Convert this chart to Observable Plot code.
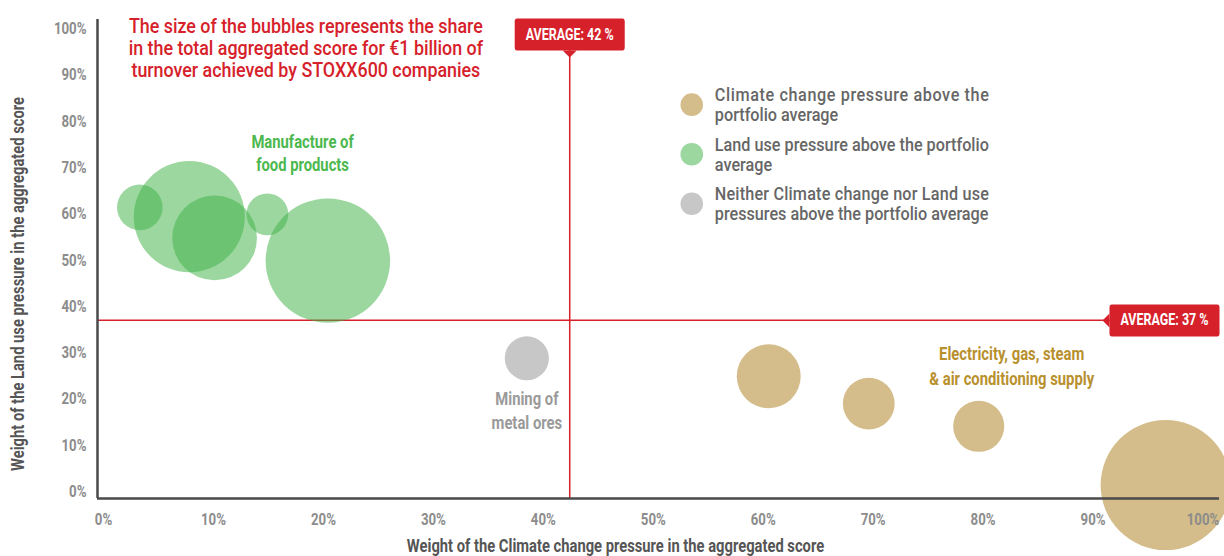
<!DOCTYPE html>
<html><head><meta charset="utf-8">
<script src="https://cdn.jsdelivr.net/npm/d3@7"></script>
<script src="https://cdn.jsdelivr.net/npm/@observablehq/plot@0.6"></script>
<style>
body{margin:0;background:#fff;}
#chart{width:1224px;height:556px;}
</style></head><body><div id="chart"></div>
<script>
// ---- data ----
const groups = ["land","land","land","land","land","neither","climate","climate","climate","climate"];
const climateWeight = [3.3, 7.8, 10.1, 14.9, 20.4, 38.5, 60.5, 69.6, 79.6, 96.6];
const landWeight    = [61.4, 59.4, 54.8, 59.9, 49.9, 28.8, 24.9, 19.0, 14.1, 1.4];
const scoreShare    = [3.1, 18.4, 10.7, 2.6, 23.1, 2.9, 6.1, 4.0, 3.9, 25.2];
const avgClimate = 42.4;
const avgLand = 37;
const xTicks = [0,10,20,30,40,50,60,70,80,90,100];
const yTicks = [0,10,20,30,40,50,60,70,80,90,100];
const legendKeys = ["climate","land","neither"];
const legendLabels = [
  "Climate change pressure above the\nportfolio average",
  "Land use pressure above the portfolio\naverage",
  "Neither Climate change nor Land use\npressures above the portfolio average"
];
const xTitle = "Weight of the Climate change pressure in the aggregated score";
const yTitle = "Weight of the Land use pressure in the aggregated score";
const noteText = "The size of the bubbles represents the share\nin the total aggregated score for €1 billion of\nturnover achieved by STOXX600 companies";
const sectorLabels = ["Manufacture of\nfood products", "Mining of\nmetal ores", "Electricity, gas, steam\n& air conditioning supply"];

// ---- styling ----
const FONT = 'Roboto, "Liberation Sans", sans-serif';
const SX = 0.78; // horizontal squeeze to imitate the condensed face
const RED = "#d6212b";
const GOLD = "#d4bd8a", GREEN = "#42b44a", GREY = "#c6c7c6";
const colorOf = {climate: GOLD, land: GREEN, neither: GREY};
const opacityOf = {climate: 1, land: 0.53, neither: 1};

const bubbles = groups.map((g, i) => ({group: g, x: climateWeight[i], y: landWeight[i], share: scoreShare[i]}));
const xMin = -0.55, xMax = 101.5, yMin = -1.5, yMax = 102;

// layout (data coordinates for annotations)
const legendPos = [{x: 53.5, tx: 55.6, y: 83.6}, {x: 53.5, tx: 55.6, y: 72.9}, {x: 53.5, tx: 55.6, y: 62.2}];
const legend = legendKeys.map((k, i) => ({key: k, label: legendLabels[i], ...legendPos[i]}));

const chart = Plot.plot({
  width: 1224, height: 556,
  marginLeft: 97, marginRight: 5, marginTop: 19, marginBottom: 58,
  style: {fontFamily: FONT, background: "#fff", overflow: "visible"},
  x: {domain: [xMin, xMax], axis: null},
  y: {domain: [yMin, yMax], axis: null},
  r: {type: "sqrt", domain: [0, 25.2], range: [0, 65]},
  marks: [
    Plot.ruleX([avgClimate], {stroke: RED, strokeWidth: 1.5}),
    Plot.ruleY([avgLand], {stroke: RED, strokeWidth: 1.5}),
    Plot.dot(bubbles, {x: "x", y: "y", r: "share", fill: d => colorOf[d.group], fillOpacity: d => opacityOf[d.group], stroke: null}),
    // axes
    Plot.ruleX([xMin], {stroke: "#4a4a4a", strokeWidth: 2.5}),
    Plot.ruleY([yMin], {stroke: "#4a4a4a", strokeWidth: 2.5}),
    Plot.axisX(xTicks, {tickFormat: d => d + "%", tickSize: 0, tickPadding: 14, fontSize: 17, fontWeight: "bold", fill: "#8c8c8c", label: null}),
    Plot.axisY(yTicks, {tickFormat: d => d + "%", tickSize: 0, tickPadding: 11, fontSize: 17, fontWeight: "bold", fill: "#8c8c8c", label: null}),
    Plot.text([xTitle], {frameAnchor: "bottom", dx: -43, dy: 48, lineAnchor: "middle", fontSize: 18, fontWeight: "bold", fill: "#555"}),
    Plot.text([yTitle], {frameAnchor: "left", rotate: -90, dx: -79, dy: 25, textAnchor: "middle", lineAnchor: "middle", fontSize: 18, fontWeight: "bold", fill: "#555"}),
    // annotations
    Plot.text([noteText], {x: 18.4, y: 95.9, fontSize: 20, lineHeight: 1.1, fill: RED, fontWeight: 500}),
    Plot.text([sectorLabels[0]], {x: 18.1, y: 73.3, fontSize: 19, lineHeight: 1.2, fill: "#4cb84e", fontWeight: "bold"}),
    Plot.text([sectorLabels[1]], {x: 38.5, y: 17.7, fontSize: 19, lineHeight: 1.25, fill: "#9a9a9a", fontWeight: "bold"}),
    Plot.text([sectorLabels[2]], {x: 82.6, y: 27.4, fontSize: 19, lineHeight: 1.3, fill: "#b8902e", fontWeight: "bold"}),
    // legend
    Plot.dot(legend, {x: "x", y: "y", r: 11.3, fill: d => colorOf[d.key], fillOpacity: d => d.key === "land" ? 0.53 : 1, stroke: null}),
    Plot.text(legend, {x: "tx", y: "y", text: "label", textAnchor: "start", fontSize: 18, lineHeight: 1.11, fill: "#666", fontWeight: 500}),
    // average labels
    Plot.text([`AVERAGE: ${Math.round(avgClimate)} %`], {x: avgClimate, y: yMax, dy: 15, fontSize: 16, fontWeight: "bold", fill: "#fff"}),
    Plot.text([`AVERAGE: ${Math.round(avgLand)} %`], {x: xMax, y: avgLand, dx: -11, textAnchor: "end", fontSize: 16, fontWeight: "bold", fill: "#fff"})
  ]
});
document.getElementById("chart").append(chart);

// condense texts horizontally around their anchor
const legendFlat = legendLabels.map(s => s.replace("\n", ""));
function squeezeFor(s) {
  if (s.startsWith("The size")) return 0.893;
  if (legendFlat.includes(s)) return 0.9;
  if (s === xTitle || s === yTitle) return 0.82;
  return SX;
}
const LEGEND_LINE_PX = 274;
d3.select(chart).selectAll("text").each(function() {
  const s = this.textContent || "";
  const k = squeezeFor(s);
  const t = this.getAttribute("transform") || "";
  this.setAttribute("transform", (t + ` scale(${k},1)`).trim());
  this.dataset.sx = k;
  if (legendFlat.includes(s)) {
    const first = this.querySelector("tspan");
    if (first) {
      first.setAttribute("textLength", LEGEND_LINE_PX / k);
      first.setAttribute("lengthAdjust", "spacing");
    }
  }
});

// red boxes behind the average labels
const ns = "http://www.w3.org/2000/svg";
d3.select(chart).selectAll("text").each(function() {
  const s = this.textContent || "";
  if (!s.startsWith("AVERAGE")) return;
  const k = +this.dataset.sx;
  const dir = s.includes(String(Math.round(avgClimate))) ? "down" : "left";
  const b = this.getBBox();
  const padX = 11 / k, h = 32, tw = 7 / k;
  const cx = b.x + b.width / 2, cy = b.y + b.height / 2;
  const x0 = b.x - padX, x1 = b.x + b.width + padX, y0 = cy - h / 2, y1 = cy + h / 2;
  const t = this.getAttribute("transform");
  const rect = document.createElementNS(ns, "rect");
  rect.setAttribute("x", x0); rect.setAttribute("y", y0);
  rect.setAttribute("width", x1 - x0); rect.setAttribute("height", h);
  rect.setAttribute("rx", 3); rect.setAttribute("fill", RED);
  const tri = document.createElementNS(ns, "path");
  tri.setAttribute("d", dir === "down"
    ? `M${cx - tw},${y1}L${cx + tw},${y1}L${cx},${y1 + 7}Z`
    : `M${x0},${cy - 7}L${x0},${cy + 7}L${x0 - tw},${cy}Z`);
  tri.setAttribute("fill", RED);
  if (t) { rect.setAttribute("transform", t); tri.setAttribute("transform", t); }
  this.parentNode.insertBefore(rect, this);
  this.parentNode.insertBefore(tri, this);
});
</script></body></html>
